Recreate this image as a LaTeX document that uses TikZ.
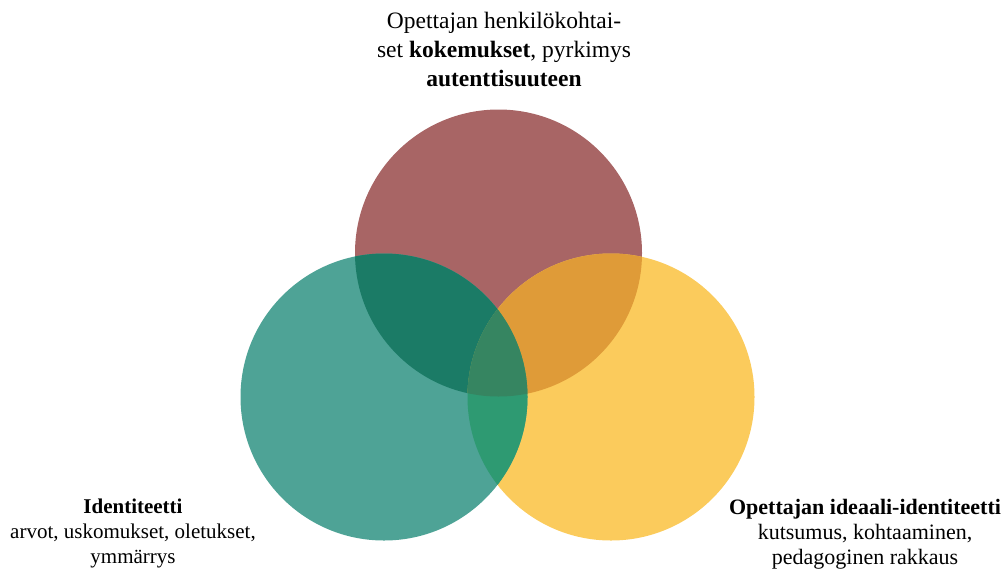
\documentclass[tikz,border=0pt]{standalone}
\usepackage{fontspec}
\setmainfont{Liberation Serif}

% single-circle fills
\definecolor{rosewood}{HTML}{A86565}
\definecolor{sunflower}{HTML}{FBCB5C}
\definecolor{seagreen}{HTML}{4EA396}
% overlap fills
\definecolor{rosesea}{HTML}{1B7B66}
\definecolor{rosesun}{HTML}{DF9B38}
\definecolor{seasun}{HTML}{2E9A72}
\definecolor{allthree}{HTML}{368561}

\tikzset{
  ring/.style={circle, minimum size=287pt, inner sep=0pt, outer sep=0pt},
  toplabel/.style={align=center, inner sep=0pt, font=\fontsize{23.5}{29}\selectfont},
  sidelabel/.style={align=center, inner sep=0pt, font=\fontsize{22}{25}\selectfont}
}

\begin{document}
\begin{tikzpicture}[x=1pt, y=-1pt]
\useasboundingbox (0,0) rectangle (1006,571);

% the three sets
\node[ring, fill=rosewood]  (exp)   at (498.5,253) {};
\node[ring, fill=sunflower] (ideal) at (611,397)   {};
\node[ring, fill=seagreen]  (ident) at (384,397)   {};

% pairwise overlaps
\begin{scope}
  \clip (exp.center) circle[radius=143.5pt];
  \fill[rosesea] (ident.center) circle[radius=143.5pt];
\end{scope}
\begin{scope}
  \clip (exp.center) circle[radius=143.5pt];
  \fill[rosesun] (ideal.center) circle[radius=143.5pt];
\end{scope}
\begin{scope}
  \clip (ident.center) circle[radius=143.5pt];
  \fill[seasun] (ideal.center) circle[radius=143.5pt];
\end{scope}
% common core
\begin{scope}
  \clip (exp.center) circle[radius=143.5pt];
  \clip (ident.center) circle[radius=143.5pt];
  \fill[allthree] (ideal.center) circle[radius=143.5pt];
\end{scope}

% labels
\node[toplabel, anchor=north] (expl) at (504,12)
  {Opettajan henkilökohtai-\\set \textbf{kokemukset}, pyrkimys\\\textbf{autenttisuuteen}};
\node[sidelabel, anchor=north, font=\fontsize{21}{25}\selectfont] (identl) at (133,499)
  {\textbf{Identiteetti}\\arvot, uskomukset, oletukset,\\ymmärrys};
\node[sidelabel, anchor=north] (ideall) at (865,499)
  {\textbf{Opettajan ideaali-identiteetti}\\kutsumus, kohtaaminen,\\pedagoginen rakkaus};
\end{tikzpicture}
\end{document}
